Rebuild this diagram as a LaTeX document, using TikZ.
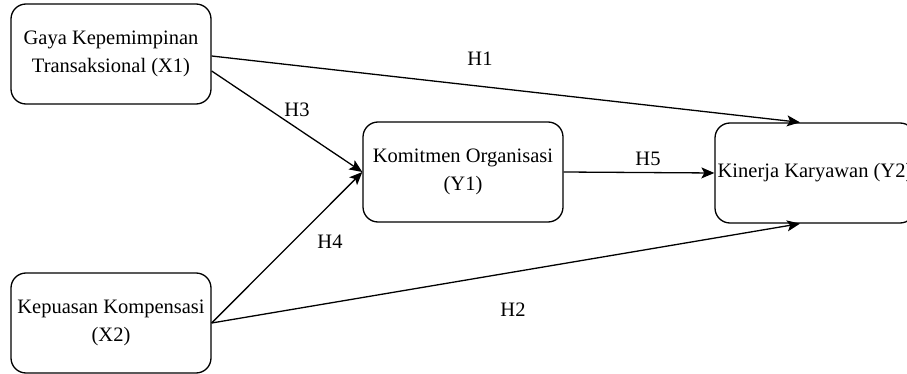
\documentclass[tikz,border=0pt]{standalone}
\usepackage{fontspec}
\setmainfont{Liberation Serif}
\usetikzlibrary{arrows.meta}

\tikzset{
	var/.style={draw, line width=1.3pt, rounded corners=15pt, minimum width=200pt,
		minimum height=100pt, align=center, inner sep=2pt,
		font=\fontsize{20.5}{28}\selectfont},
	hyp/.style={font=\fontsize{20.5}{24}\selectfont},
	path/.style={line width=1.3pt, -{Stealth[length=13pt,width=11pt,inset=3pt]}}
}

\begin{document}
\begin{tikzpicture}[x=1pt, y=-1pt]
		\useasboundingbox (0, 0) rectangle (907, 374);
		\node[var] (x1) at (111, 54) {Gaya Kepemimpinan\\Transaksional (X1)};
		\node[var] (x2) at (111, 323) {Kepuasan Kompensasi\\(X2)};
		\node[var] (y1) at (463, 172) {Komitmen Organisasi\\(Y1)};
		\node[var] (y2) at (815, 173) {Kinerja Karyawan (Y2)};
		\draw[path] ([yshift=-2pt]x1.east) -- ([xshift=-15pt]y2.north);
		\draw[path] ([yshift=-17pt]x1.east) -- (y1.west);
		\draw[path] (x2.east) -- (y1.west);
		\draw[path] (x2.east) -- ([xshift=-15pt]y2.south);
		\draw[path] (y1.east) -- (y2.west);
		\node[hyp] (h1) at (480, 59) {H1};
		\node[hyp] (h2) at (513, 310) {H2};
		\node[hyp] (h3) at (297, 110) {H3};
		\node[hyp] (h4) at (330, 242) {H4};
		\node[hyp] (h5) at (648, 159) {H5};
	\end{tikzpicture}
\end{document}
